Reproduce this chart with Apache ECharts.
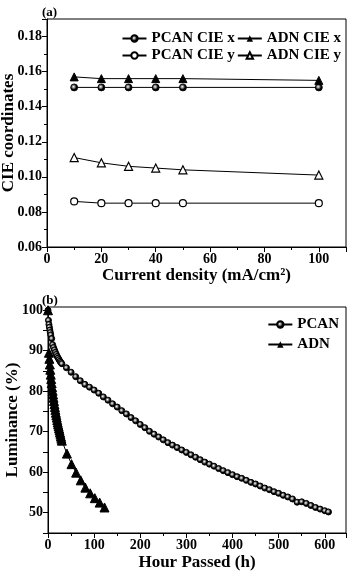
<!DOCTYPE html>
<html><head><meta charset="utf-8">
<script src="https://cdn.jsdelivr.net/npm/echarts@6/dist/echarts.min.js"></script>
<style>html,body{margin:0;padding:0;background:#fff}#c{width:349px;height:572px}</style>
</head><body><div id="c"></div>
<script>
// Panel (a)
var currentDensity = [10, 20, 30, 40, 50, 100];
var pcanCieX = [0.151, 0.151, 0.151, 0.151, 0.151, 0.151];
var adnCieX  = [0.157, 0.156, 0.156, 0.156, 0.156, 0.155];
var pcanCieY = [0.086, 0.085, 0.085, 0.085, 0.085, 0.085];
var adnCieY  = [0.111, 0.108, 0.106, 0.105, 0.104, 0.101];
// Panel (b)
var pcanHours = [0,1,2,3,4,5,6,8,10,12,14,16,18,20,22,24,26,28,30,
  40,50,60,70,80,90,100,110,120,130,140,150,160,170,180,190,200,210,220,230,240,250,260,270,280,290,300,
  310,320,330,340,350,360,370,380,390,400,410,420,430,440,450,460,470,480,490,500,510,520,530,540,550,560,570,580,590,600,608];
var pcanLum = [100,97.5,96.5,95.8,95.1,94.5,93.9,93.0,91.5,90.8,90.2,89.6,89.1,88.6,88.2,87.8,87.4,87.1,86.8,
  85.8,84.7,83.6,82.6,81.7,81.0,80.3,79.5,78.6,77.8,76.9,76.1,75.2,74.4,73.5,72.7,71.8,71.0,70.1,69.4,68.7,68.0,67.3,66.7,66.1,65.5,64.9,
  64.3,63.7,63.1,62.5,62.0,61.5,60.9,60.4,59.9,59.4,58.9,58.5,58.0,57.5,57.1,56.6,56.1,55.7,55.2,54.8,54.3,53.9,53.4,52.6,52.7,52.3,51.8,51.3,50.9,50.5,50.2];
var adnHours = [0,2,3,4,5,6,7,8,9,10,11,12,13,14,15,16,17,18,19,20,21,22,23,24,25,26,27,28,29,30,
  41,51,61,71,81,91.5,101.5,112,122.5];
var adnLum = [100,89.5,88.0,86.6,85.3,84.1,83.0,82.0,81.0,80.1,79.2,78.4,77.6,76.8,76.1,75.4,74.7,74.1,73.5,72.9,72.3,71.8,71.3,70.8,70.3,69.8,69.3,68.8,68.3,67.8,
  64.6,62.0,59.9,58.0,56.2,54.8,53.6,52.5,51.3];

function pairs(xs, ys){ return xs.map(function(x,i){ return [x, ys[i]]; }); }

var FONT = '"Liberation Serif", "Times New Roman", serif';
var sphere = {type:'radial', x:0.42, y:0.42, r:0.6, colorStops:[{offset:0,color:'#ffffff'},{offset:0.25,color:'#9a9a9a'},{offset:0.6,color:'#000'},{offset:1,color:'#000'}]};
var LBL = {color:'#000', fontFamily:FONT, fontWeight:'bold', fontSize:14, margin:5, showMaxLabel:false};
var axisCommon = {
  axisLine:{show:true, onZero:false, lineStyle:{color:'#000', width:1}},
  axisTick:{show:true, inside:false, length:5, lineStyle:{color:'#000', width:1}},
  minorTick:{show:true, splitNumber:2, length:3, lineStyle:{color:'#000', width:1}},
  splitLine:{show:false},
  axisLabel:LBL,
  nameLocation:'middle',
  nameMoveOverlap:false,
  nameTextStyle:{color:'#000', fontFamily:FONT, fontWeight:'bold', fontSize:17}
};
function ax(extra){ return Object.assign({}, JSON.parse(JSON.stringify(axisCommon)), extra); }

var chart = echarts.init(document.getElementById('c'), null, {renderer:'canvas'});
var lineStyle = {color:'#000', width:1};
var legendText = {fontFamily:FONT, fontWeight:'bold', fontSize:15, color:'#000'};
chart.setOption({
  animation:false,
  backgroundColor:'#fff',
  title:[
    {text:'(a)', left:37, top:1, textStyle:{fontFamily:FONT, fontWeight:'bold', fontSize:13, color:'#000'}},
    {text:'(b)', left:37, top:289, textStyle:{fontFamily:FONT, fontWeight:'bold', fontSize:13, color:'#000'}}
  ],
  grid:[
    {left:47, top:19, right:3, height:228, show:true, borderColor:'#000', borderWidth:1, backgroundColor:'transparent', containLabel:false, outerBoundsMode:'none'},
    {left:48, top:307, right:3, height:226, show:true, borderColor:'#000', borderWidth:1, backgroundColor:'transparent', containLabel:false, outerBoundsMode:'none'}
  ],
  legend:[
    {data:['PCAN CIE x','ADN CIE x'], right:3, top:26, itemGap:2, itemWidth:24, itemHeight:8, textStyle:legendText},
    {data:['PCAN CIE y','ADN CIE y'], right:3, top:43, itemGap:2, itemWidth:24, itemHeight:8, textStyle:legendText},
    {data:['PCAN','ADN'], orient:'vertical', right:5, top:312, itemGap:5, itemWidth:24, itemHeight:8, textStyle:legendText}
  ],
  xAxis:[
    ax({type:'value', gridIndex:0, min:0, max:110, interval:20, name:'Current density (mA/cm\u00B2)', nameGap:20}),
    ax({type:'value', gridIndex:1, min:0, max:646, interval:100, name:'Hour Passed (h)', nameGap:21})
  ],
  yAxis:[
    ax({type:'value', gridIndex:0, min:0.06, max:0.19, interval:0.02, name:'CIE coordinates', nameGap:30,
        axisLabel:Object.assign({}, LBL, {formatter:function(v){return v.toFixed(2);}})}),
    ax({type:'value', gridIndex:1, min:45, max:100.8, interval:5, name:'Luminance (%)', nameGap:27,
        minorTick:{show:false},
        axisLabel:Object.assign({}, LBL, {formatter:function(v){return (Math.abs(v%10)<1e-6)? String(v) : '';}})})
  ],
  series:[
    {name:'PCAN CIE x', type:'line', xAxisIndex:0, yAxisIndex:0, data:pairs(currentDensity,pcanCieX),
     symbol:'circle', symbolSize:7, lineStyle:lineStyle, itemStyle:{color:sphere, borderColor:'#000', borderWidth:0.8}},
    {name:'ADN CIE x', type:'line', xAxisIndex:0, yAxisIndex:0, data:pairs(currentDensity,adnCieX),
     symbol:'triangle', symbolSize:8, lineStyle:lineStyle, itemStyle:{color:'#000', borderColor:'#000'}},
    {name:'PCAN CIE y', type:'line', xAxisIndex:0, yAxisIndex:0, data:pairs(currentDensity,pcanCieY),
     symbol:'circle', symbolSize:7, lineStyle:lineStyle, itemStyle:{color:'#fff', borderColor:'#000', borderWidth:1.2}},
    {name:'ADN CIE y', type:'line', xAxisIndex:0, yAxisIndex:0, data:pairs(currentDensity,adnCieY),
     symbol:'triangle', symbolSize:8, lineStyle:lineStyle, itemStyle:{color:'#fff', borderColor:'#000', borderWidth:1.2}},
    {name:'PCAN', type:'line', xAxisIndex:1, yAxisIndex:1, data:pairs(pcanHours,pcanLum),
     symbol:'circle', symbolSize:6, showAllSymbol:true, lineStyle:lineStyle, itemStyle:{color:sphere, borderColor:'#000', borderWidth:1}},
    {name:'ADN', type:'line', xAxisIndex:1, yAxisIndex:1, data:pairs(adnHours,adnLum),
     symbol:'triangle', symbolSize:9, showAllSymbol:true, lineStyle:lineStyle, itemStyle:{color:'#000', borderColor:'#000'}}
  ]
});
</script>
</body></html>
